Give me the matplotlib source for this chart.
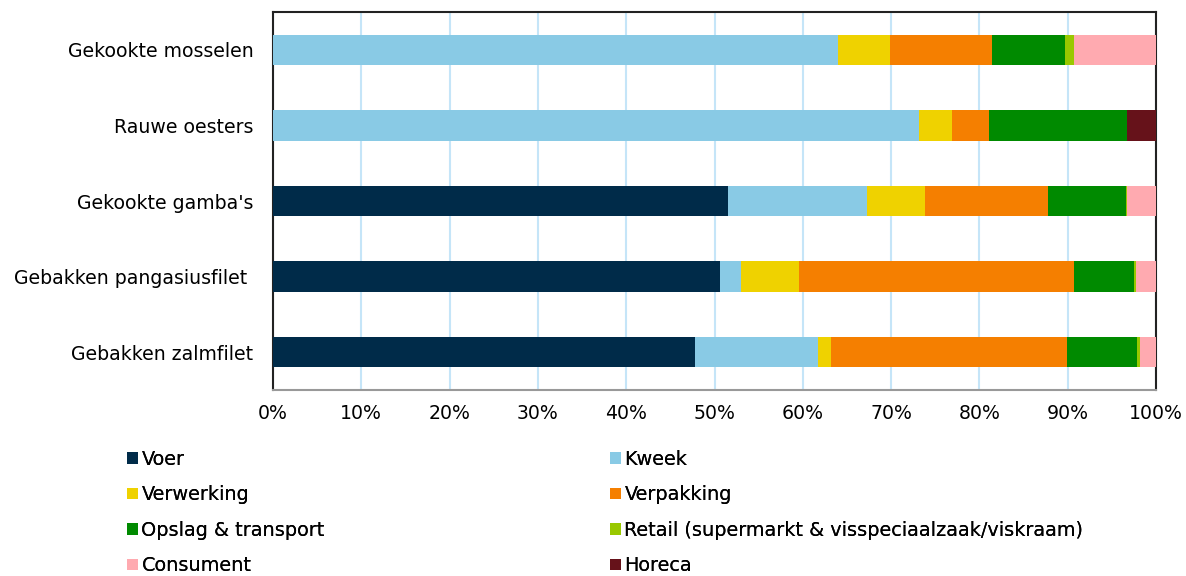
import matplotlib
matplotlib.use("Agg")
import matplotlib.pyplot as plt
from matplotlib.patches import Patch
from matplotlib.ticker import FuncFormatter

categories = ["Gekookte mosselen", "Rauwe oesters", "Gekookte gamba's",
              "Gebakken pangasiusfilet ", "Gebakken zalmfilet"]
series_names = ["Voer", "Kweek", "Verwerking", "Verpakking", "Opslag & transport",
                "Retail (supermarkt & visspeciaalzaak/viskraam)", "Consument", "Horeca"]
voer        = [0.0, 0.0, 51.5, 50.6, 47.8]
kweek       = [64.0, 73.2, 15.8, 2.4, 13.9]
verwerking  = [5.9, 3.7, 6.5, 6.6, 1.5]
verpakking  = [11.5, 4.2, 14.0, 31.1, 26.7]
opslag      = [8.3, 15.6, 8.8, 6.8, 8.0]
retail      = [1.0, 0.0, 0.1, 0.2, 0.3]
consument   = [9.3, 0.0, 3.3, 2.3, 1.8]
horeca      = [0.0, 3.3, 0.0, 0.0, 0.0]
x_ticks = [0, 10, 20, 30, 40, 50, 60, 70, 80, 90, 100]

series = [voer, kweek, verwerking, verpakking, opslag, retail, consument, horeca]
colors = ["#002B49", "#89CAE5", "#EFD200", "#F57F00", "#008A00", "#99C800", "#FFAAB0", "#66121A"]

plt.rcParams['font.family'] = ['DejaVu Sans']
fig = plt.figure(figsize=(11.86, 5.76), dpi=100)
ax = fig.add_axes([273/1186, 1-390/576, (1156-273)/1186, (390-12)/576])

ypos = list(range(len(categories)))
left = [0.0]*len(categories)
for vals, col, name in zip(series, colors, series_names):
    ax.barh(ypos, vals, left=left, height=0.4, color=col, label=name, zorder=3)
    left = [l+v for l, v in zip(left, vals)]

ax.set_ylim(len(categories)-0.5, -0.5)
ax.set_xlim(0, 100)
ax.set_yticks(ypos)
ax.set_yticklabels(categories, fontsize=13.6)
ax.set_xticks(x_ticks)
ax.xaxis.set_major_formatter(FuncFormatter(lambda v, p: f"{int(v)}%"))
ax.tick_params(axis='x', labelsize=13.6, length=0, pad=10)
ax.tick_params(axis='y', length=0, pad=14)
ax.grid(axis='x', color='#C5E5F8', linewidth=1.5, zorder=0)
for s in ['left', 'top', 'right']:
    ax.spines[s].set_color('#222222')
    ax.spines[s].set_linewidth(1.5)
ax.spines['bottom'].set_color('#999999')
ax.spines['bottom'].set_linewidth(1.5)

handles = [Patch(facecolor=c, edgecolor='none') for c in colors]
col1 = [0, 2, 4, 6]
col2 = [1, 3, 5, 7]
for idx, xa in [(col1, 127/1186), (col2, 610/1186)]:
    leg = fig.legend([handles[i] for i in idx], [series_names[i] for i in idx],
                     loc='upper left', bbox_to_anchor=(xa, 1-450/576), frameon=False,
                     fontsize=13.9, handlelength=0.55, handleheight=0.55,
                     handletextpad=0.2, labelspacing=0.85, borderaxespad=0, borderpad=0)
    fig.add_artist(leg)

fig.savefig("out.png", dpi=100)
